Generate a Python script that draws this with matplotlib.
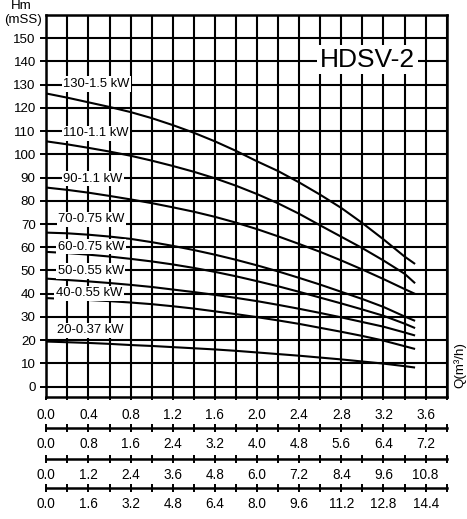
import numpy as np
import matplotlib
matplotlib.use("Agg")
import matplotlib.pyplot as plt

plt.rcParams['font.family'] = ['Liberation Sans', 'DejaVu Sans']

# flow (first scale) and head values
q = [0.0, 0.2, 0.4, 0.6, 0.8, 1.0, 1.2, 1.4, 1.6, 1.8,
     2.0, 2.2, 2.4, 2.6, 2.8, 3.0, 3.2, 3.4, 3.5]
h130 = [126.2, 124.4, 122.4, 120.4, 118.2, 115.6, 112.6, 109.3, 105.6, 101.5,
        97.0, 92.8, 87.9, 82.6, 76.9, 70.4, 63.4, 56.0, 52.8]
h110 = [105.6, 104.3, 102.8, 101.2, 99.4, 97.3, 95.0, 92.5, 89.7, 86.5,
        82.9, 78.9, 74.4, 69.4, 64.5, 59.6, 54.3, 48.6, 44.5]
h90 = [85.7, 84.7, 83.5, 82.1, 80.6, 79.0, 77.2, 75.3, 73.1, 70.6,
       67.8, 64.7, 61.4, 58.0, 54.3, 50.4, 46.3, 42.0, 39.9]
h70 = [66.3, 66.0, 65.4, 64.6, 63.6, 62.2, 60.6, 58.8, 56.8, 54.6,
       52.2, 49.6, 46.8, 43.9, 40.8, 37.7, 34.3, 30.2, 28.3]
h60 = [58.0, 57.5, 56.8, 56.0, 55.0, 53.9, 52.6, 51.1, 49.4, 47.5,
       45.4, 43.2, 40.8, 38.3, 35.8, 33.2, 30.5, 27.1, 25.2]
h50 = [46.5, 45.9, 45.3, 44.6, 43.8, 42.9, 41.8, 40.7, 39.5, 38.2,
       36.8, 35.2, 33.5, 31.7, 29.8, 27.8, 25.8, 23.3, 22.0]
h40 = [38.1, 37.7, 37.3, 36.8, 36.2, 35.5, 34.6, 33.6, 32.4, 31.2,
       29.9, 28.5, 27.0, 25.3, 23.6, 21.8, 19.8, 17.4, 16.2]
h20 = [19.4, 19.1, 18.8, 18.4, 17.9, 17.5, 17.0, 16.5, 16.0, 15.4,
       14.7, 14.0, 13.3, 12.5, 11.7, 10.8, 9.9, 8.8, 8.2]

curves = [h130, h110, h90, h70, h60, h50, h40, h20]
labels = ["130-1.5 kW", "110-1.1 kW", "90-1.1 kW", "70-0.75 kW",
          "60-0.75 kW", "50-0.55 kW", "40-0.55 kW", "20-0.37 kW"]
# label anchor (left, baseline) in data units
lab_q = [0.161, 0.161, 0.161, 0.114, 0.108, 0.108, 0.092, 0.105]
lab_h = [129.0, 107.7, 88.3, 70.8, 58.9, 48.5, 38.8, 23.0]

# extra flow scales below the chart (multiples of the first)
scale_factors = [2, 3, 4]

W, H = 467, 519
fig = plt.figure(figsize=(W / 100, H / 100), dpi=100)

left, right = 46.3 / W, 446.7 / W
top, bottom = 1 - 15 / H, 1 - 396.7 / H
ax = fig.add_axes([left, bottom, right - left, top - bottom])

ax.set_xlim(0, 3.8)
ax.set_ylim(-4.35, 160)

ax.set_xticks(np.arange(0, 3.61, 0.4))
ax.set_xticklabels([f"{v:.1f}" for v in np.arange(0, 3.61, 0.4)])
ax.set_xticks(np.arange(0, 3.81, 0.2), minor=True)
ax.set_yticks(np.arange(0, 151, 10))
ax.set_yticks([160], minor=True)

ax.grid(True, which='both', color='black', lw=1.5)
ax.set_axisbelow(True)
for s in ax.spines.values():
    s.set_linewidth(1.8)

ax.tick_params(axis='y', which='major', length=4.6, width=1.4, pad=3, labelsize=9.6)
ax.tick_params(axis='y', which='minor', length=0)
ax.tick_params(axis='x', which='both', direction='out', length=2.5, width=1.4,
               pad=5.5, labelsize=9.8)

for hv, lab, lq, lh in zip(curves, labels, lab_q, lab_h):
    ax.plot(q, hv, color='black', lw=1.5, solid_capstyle='butt')
    ax.text(lq, lh, lab, fontsize=9.4, ha='left', va='baseline',
            bbox=dict(boxstyle='square,pad=0.12', fc='white', ec='none'))

ax.text(3.05, 137.8, "HDSV-2", fontsize=19, ha='center', va='baseline',
        bbox=dict(boxstyle='square,pad=0.1', fc='white', ec='none'))

# additional flow axes
line_y = [428.3, 459.0, 488.3]
for k, ly in zip(scale_factors, line_y):
    a = fig.add_axes([left, 1 - ly / H, right - left, 0.0001])
    a.set_xlim(0, 3.8 * k)
    a.set_ylim(0, 1)
    a.patch.set_visible(False)
    for name in ['top', 'left', 'right']:
        a.spines[name].set_visible(False)
    a.spines['bottom'].set_linewidth(1.8)
    a.set_yticks([])
    major = np.arange(0, 10) * 0.4 * k
    a.set_xticks(major)
    a.set_xticklabels([f"{v:.1f}" for v in major])
    a.set_xticks(np.arange(0, 20) * 0.2 * k, minor=True)
    a.tick_params(axis='x', which='both', direction='inout', length=6, width=1.4,
                  pad=3.5, labelsize=9.8)
    a.set_xlim(0, 3.8 * k)

fig.text(21 / W, 1 - 6 / H, "Hm", fontsize=9.6, ha='center', va='center')
fig.text(23 / W, 1 - 20 / H, "(mSS)", fontsize=9.6, ha='center', va='center')
fig.text(460 / W, 1 - 365 / H, "Q(m³/h)", fontsize=9.6, rotation=90,
         ha='center', va='center')

fig.savefig("out.png", dpi=100)
